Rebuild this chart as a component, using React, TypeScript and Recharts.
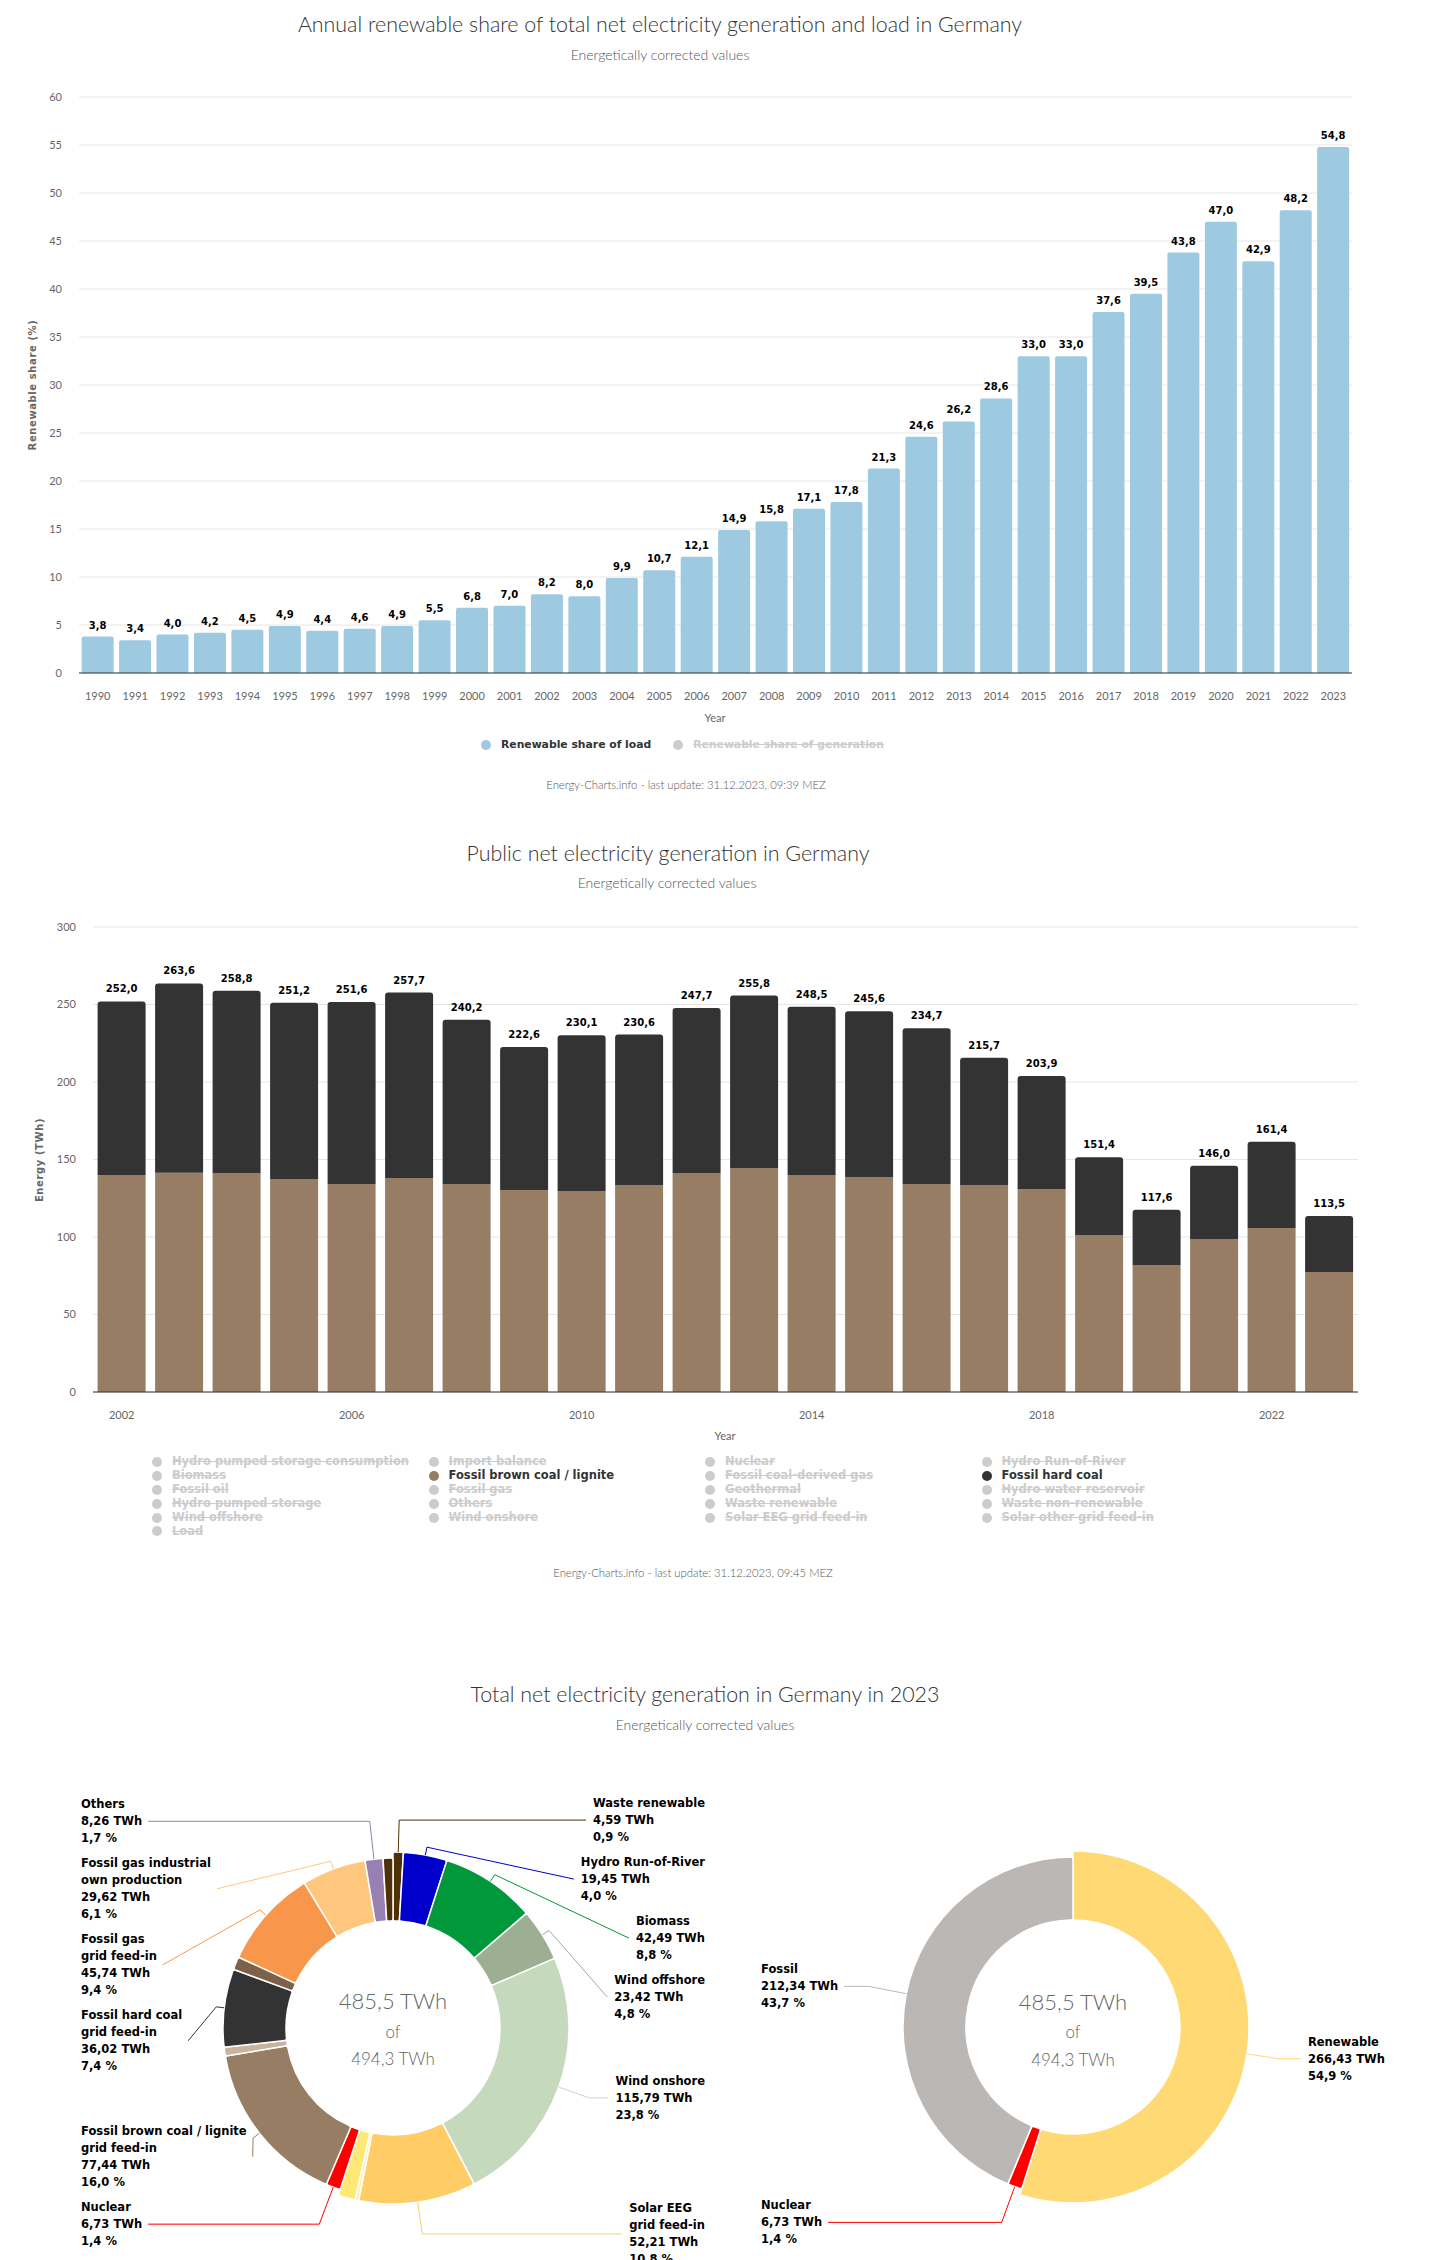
import React from 'react';
import { BarChart, Bar, XAxis, YAxis, CartesianGrid, LabelList, PieChart, Pie, Cell } from 'recharts';

// --- Annual renewable share of load (%)
const shareYears = [
  '1990', '1991', '1992', '1993', '1994', '1995', '1996', '1997', '1998', '1999',
  '2000', '2001', '2002', '2003', '2004', '2005', '2006', '2007', '2008', '2009',
  '2010', '2011', '2012', '2013', '2014', '2015', '2016', '2017', '2018', '2019',
  '2020', '2021', '2022', '2023',
];
const shareOfLoad = [
  3.8, 3.4, 4.0, 4.2, 4.5, 4.9, 4.4, 4.6, 4.9, 5.5,
  6.8, 7.0, 8.2, 8.0, 9.9, 10.7, 12.1, 14.9, 15.8, 17.1,
  17.8, 21.3, 24.6, 26.2, 28.6, 33.0, 33.0, 37.6, 39.5, 43.8,
  47.0, 42.9, 48.2, 54.8,
];
const shareTicks = [0, 5, 10, 15, 20, 25, 30, 35, 40, 45, 50, 55, 60];

// --- Public net generation, TWh (lignite + hard coal visible)
const genYears = [
  '2002', '2003', '2004', '2005', '2006', '2007', '2008', '2009', '2010', '2011', '2012',
  '2013', '2014', '2015', '2016', '2017', '2018', '2019', '2020', '2021', '2022', '2023',
];
const ligniteTWh = [
  140.0, 141.4, 141.3, 137.4, 134.2, 138.1, 134.2, 130.3, 129.7, 133.5, 141.3,
  144.5, 140.0, 138.7, 134.2, 133.5, 131.0, 101.3, 81.8, 98.7, 105.8, 77.4,
];
const genTotalTWh = [
  252.0, 263.6, 258.8, 251.2, 251.6, 257.7, 240.2, 222.6, 230.1, 230.6, 247.7,
  255.8, 248.5, 245.6, 234.7, 215.7, 203.9, 151.4, 117.6, 146.0, 161.4, 113.5,
];
const genTicks = [0, 50, 100, 150, 200, 250, 300];
const genLegendNames = [
  'Hydro pumped storage consumption', 'Import balance', 'Nuclear', 'Hydro Run-of-River',
  'Biomass', 'Fossil brown coal / lignite', 'Fossil coal-derived gas', 'Fossil hard coal',
  'Fossil oil', 'Fossil gas', 'Geothermal', 'Hydro water reservoir',
  'Hydro pumped storage', 'Others', 'Waste renewable', 'Waste non-renewable',
  'Wind offshore', 'Wind onshore', 'Solar EEG grid feed-in', 'Solar other grid feed-in',
  'Load',
];
const LIGNITE = '#977d63';
const HARDCOAL = '#333333';
const genLegendActive: Record<string, string> = {
  'Fossil brown coal / lignite': LIGNITE,
  'Fossil hard coal': HARDCOAL,
};

// --- 2023 total net generation mix (clockwise from top)
const mixNames = [
  'Waste renewable', 'Hydro Run-of-River', 'Biomass', 'Wind offshore', 'Wind onshore',
  'Solar EEG\ngrid feed-in', 'Solar other grid feed-in', 'Solar self-consumption', 'Nuclear',
  'Fossil brown coal / lignite\ngrid feed-in', 'Fossil coal-derived gas', 'Fossil hard coal\ngrid feed-in',
  'Fossil oil', 'Fossil gas\ngrid feed-in', 'Fossil gas industrial\nown production', 'Others',
  'Waste non-renewable',
];
const mixTWh = [
  4.59, 19.45, 42.49, 23.42, 115.79,
  52.21, 1.6, 7.6, 6.73,
  77.44, 4.0, 36.02,
  6.0, 45.74, 29.62, 8.26,
  4.54,
];
const mixColors = [
  '#4f3107', '#0000cc', '#00983a', '#9caf93', '#c5d9bc',
  '#ffcc66', '#fff1b0', '#ffe873', '#ff0000',
  '#967d63', '#c9b39c', '#333333',
  '#7d6148', '#f8974c', '#ffc77e', '#9880b2',
  '#4f3107',
];
const mixRenewable = [
  true, true, true, true, true,
  true, true, true, false,
  false, false, false,
  false, false, false, false,
  false,
];
const mixLabelled = [
  true, true, true, true, true,
  true, false, false, true,
  true, false, true,
  false, true, true, true,
  false,
];

const groupNames = ['Renewable', 'Nuclear', 'Fossil'];
const groupTWh = [266.43, 6.73, 212.34];
const groupColors = ['#ffd974', '#ff0000', '#bbb7b4'];
const groupRenewable = [true, false, false];
const groupLabelled = [true, true, true];

const grossTotalTWh = 494.3;

// ---------------------------------------------------------------
const THIN = "Lato, 'Open Sans', sans-serif";
const BOLD = "'DejaVu Sans', Verdana, sans-serif";
const RAD = Math.PI / 180;
const LINE = 17;
const EDGE = 312;
const PIE_FONT = 11.5;
const fmt = (v: number, d: number) => v.toFixed(d).replace('.', ',');

const shareData = shareYears.map((year, i) => ({ year, load: shareOfLoad[i] }));
const genData = genYears.map((year, i) => ({
  year,
  lignite: ligniteTWh[i],
  hardcoal: Math.round((genTotalTWh[i] - ligniteTWh[i]) * 10) / 10,
  total: genTotalTWh[i],
}));

let measureCtx: CanvasRenderingContext2D | null = null;
function textWidth(s: string) {
  if (!measureCtx) measureCtx = document.createElement('canvas').getContext('2d');
  if (!measureCtx) return s.length * 6.6;
  measureCtx.font = `bold ${PIE_FONT}px 'DejaVu Sans'`;
  return measureCtx.measureText(s).width;
}

type Spot = { theta: number; y: number; side: 'left' | 'right'; lines: string[]; r: number; color: string };

function layoutLabels(
  names: string[], values: number[], colors: string[], renewable: boolean[], labelled: boolean[], cy: number,
) {
  const total = values.reduce((a, b) => a + b, 0);
  let acc = 0;
  const spots: (Spot | null)[] = values.map((v, i) => {
    const theta = ((acc + v / 2) / total) * 360;
    acc += v;
    if (!labelled[i]) return null;
    return {
      theta,
      y: cy - 208 * Math.cos(theta * RAD),
      side: theta < 180 ? 'right' : 'left',
      lines: [...names[i].split('\n'), `${fmt(v, 2)} TWh`, `${fmt((v / total) * 100, 1)} %`],
      r: renewable[i] ? 176 : 170,
      color: colors[i],
    };
  });
  (['left', 'right'] as const).forEach((side) => {
    const items = spots.filter((s): s is Spot => !!s && s.side === side).sort((a, b) => a.y - b.y);
    let prevBottom = -Infinity;
    items.forEach((s) => {
      const h = s.lines.length * LINE;
      const top = Math.max(s.y - h / 2, prevBottom + 8);
      s.y = top + h / 2;
      prevBottom = top + h;
    });
  });
  return spots;
}

function makeLabel(spots: (Spot | null)[]) {
  return (p: any) => {
    const s = spots[p.index];
    if (!s) return null;
    const cx = p.cx as number;
    const cy = p.cy as number;
    const t = s.theta * RAD;
    const sn = Math.sin(t);
    const cs = Math.cos(t);
    const touch = [cx + s.r * sn, cy - s.r * cs];
    const brk = [cx + (s.r + 8) * sn, cy - (s.r + 8) * cs];
    const w = Math.max(...s.lines.map(textWidth));
    const left = s.side === 'right' ? cx + EDGE - w : cx - EDGE;
    const ax = s.side === 'right' ? left - 7 : left + w + 6;
    const crookX = cx - (s.y - cy) * Math.tan(t);
    let d = `M${ax},${s.y}`;
    const crook = s.side === 'right'
      ? crookX >= brk[0] && crookX <= ax
      : crookX <= brk[0] && crookX >= ax;
    if (crook) d += ` L${crookX},${s.y}`;
    d += ` L${brk[0]},${brk[1]} L${touch[0]},${touch[1]}`;
    const n = s.lines.length;
    return (
      <g key={`lbl-${p.index}`}>
        <path d={d} stroke={s.color} strokeWidth={1} fill="none" />
        <text fontFamily={BOLD} fontSize={PIE_FONT} fontWeight="bold" fill="#000">
          {s.lines.map((l, i) => (
            <tspan key={i} x={left} y={s.y + (i - (n - 1) / 2) * LINE + 4}>{l}</tspan>
          ))}
        </text>
      </g>
    );
  };
}

function At({ x, y, children, style, rotate }: { x: number; y: number; children: React.ReactNode; style?: React.CSSProperties; rotate?: boolean }) {
  return (
    <div
      style={{
        position: 'absolute', left: x, top: y, whiteSpace: 'nowrap',
        transform: `translate(-50%,-50%)${rotate ? ' rotate(-90deg)' : ''}`,
        ...style,
      }}
    >
      {children}
    </div>
  );
}

const titleStyle: React.CSSProperties = { fontFamily: THIN, fontWeight: 300, fontSize: 21.4, color: '#333' };
const subStyle: React.CSSProperties = { fontFamily: THIN, fontWeight: 300, fontSize: 14, color: '#555' };
const creditStyle: React.CSSProperties = { fontFamily: THIN, fontWeight: 300, fontSize: 11.3, color: '#555' };
const axisTitleStyle: React.CSSProperties = { fontFamily: THIN, fontSize: 11, color: '#666' };
const yTitleStyle: React.CSSProperties = { fontFamily: BOLD, fontWeight: 'bold', fontSize: 10, color: '#666', letterSpacing: 0.6 };
const tickStyle = { fill: '#666', fontSize: 11, fontFamily: THIN };

function Dot({ color }: { color: string }) {
  return <span style={{ display: 'inline-block', width: 10, height: 10, borderRadius: 5, background: color, flex: 'none' }} />;
}

function LegendItem({ name, color, active, size }: { name: string; color: string; active: boolean; size: number }) {
  return (
    <div style={{ display: 'flex', alignItems: 'center', gap: 10 }}>
      <Dot color={active ? color : '#cccccc'} />
      <span
        style={{
          fontFamily: BOLD, fontWeight: 'bold', fontSize: size, lineHeight: '13px',
          color: active ? '#333' : '#cccccc', textDecoration: active ? 'none' : 'line-through',
        }}
      >
        {name}
      </span>
    </div>
  );
}

const barLabelProps = { fill: '#000', fontSize: 10, fontWeight: 'bold', fontFamily: BOLD };

function ShareChart() {
  return (
    <div style={{ position: 'absolute', left: 0, top: 0, width: 1452, height: 800 }}>
      <At x={660} y={24} style={titleStyle}>Annual renewable share of total net electricity generation and load in Germany</At>
      <At x={660} y={54} style={subStyle}>Energetically corrected values</At>
      <BarChart width={1452} height={720} data={shareData} margin={{ top: 97, right: 100, bottom: 17, left: 0 }} barCategoryGap="7%">
        <CartesianGrid vertical={false} stroke="#e6e6e6" />
        <XAxis dataKey="year" interval={0} height={30} tickLine={false} axisLine={{ stroke: '#333' }} tickMargin={13} tick={tickStyle} />
        <YAxis width={79} domain={[0, 60]} ticks={shareTicks} axisLine={false} tickLine={false} tickMargin={11} tick={tickStyle} />
        <Bar dataKey="load" fill="#9ecae1" radius={[2, 2, 0, 0]} isAnimationActive={false}>
          <LabelList dataKey="load" position="top" offset={8} formatter={(v: any) => fmt(Number(v), 1)} {...barLabelProps} />
        </Bar>
      </BarChart>
      <At x={32} y={385} rotate style={yTitleStyle}>Renewable share (%)</At>
      <At x={715} y={717} style={axisTitleStyle}>Year</At>
      <div style={{ position: 'absolute', left: 481, top: 738, display: 'flex', gap: 22 }}>
        <LegendItem name="Renewable share of load" color="#9ecae1" active size={10.8} />
        <LegendItem name="Renewable share of generation" color="#ccc" active={false} size={10.8} />
      </div>
      <At x={686} y={784} style={creditStyle}>Energy-Charts.info - last update: 31.12.2023, 09:39 MEZ</At>
    </div>
  );
}

function GenerationChart() {
  return (
    <div style={{ position: 'absolute', left: 0, top: 800, width: 1452, height: 800 }}>
      <At x={668} y={53} style={titleStyle}>Public net electricity generation in Germany</At>
      <At x={667} y={82} style={subStyle}>Energetically corrected values</At>
      <BarChart width={1452} height={640} data={genData} margin={{ top: 127, right: 94, bottom: 18, left: 0 }} barCategoryGap="8%">
        <CartesianGrid vertical={false} stroke="#e6e6e6" />
        <XAxis dataKey="year" interval={3} height={30} tickLine={false} axisLine={{ stroke: '#333' }} tickMargin={13} tick={tickStyle} />
        <YAxis width={93} domain={[0, 300]} ticks={genTicks} axisLine={false} tickLine={false} tickMargin={11} tick={tickStyle} />
        <Bar dataKey="lignite" stackId="g" fill={LIGNITE} isAnimationActive={false} />
        <Bar dataKey="hardcoal" stackId="g" fill={HARDCOAL} radius={[3, 3, 0, 0]} isAnimationActive={false}>
          <LabelList dataKey="total" position="top" offset={9} formatter={(v: any) => fmt(Number(v), 1)} {...barLabelProps} />
        </Bar>
      </BarChart>
      <At x={39} y={360} rotate style={yTitleStyle}>Energy (TWh)</At>
      <At x={725} y={635} style={axisTitleStyle}>Year</At>
      <div
        style={{
          position: 'absolute', left: 152, top: 655, display: 'grid',
          gridTemplateColumns: 'repeat(4, 276.5px)', gridAutoRows: '13.9px', alignItems: 'center',
        }}
      >
        {genLegendNames.map((n) => (
          <LegendItem key={n} name={n} color={genLegendActive[n] || '#ccc'} active={!!genLegendActive[n]} size={11.5} />
        ))}
      </div>
      <At x={693} y={772} style={creditStyle}>Energy-Charts.info - last update: 31.12.2023, 09:45 MEZ</At>
    </div>
  );
}

const PIE_TOP = 1780;
const MIX_CX = 393;
const MIX_CY = 248;
const GRP_CX = 1073;
const GRP_CY = 247;

function MixCharts() {
  const mixData = mixNames.map((name, i) => ({ name, value: mixTWh[i] }));
  const grpData = groupNames.map((name, i) => ({ name, value: groupTWh[i] }));
  const mixSpots = layoutLabels(mixNames, mixTWh, mixColors, mixRenewable, mixLabelled, MIX_CY);
  const grpSpots = layoutLabels(groupNames, groupTWh, groupColors, groupRenewable, groupLabelled, GRP_CY);
  const mixTotal = mixTWh.reduce((a, b) => a + b, 0);
  const grpTotal = groupTWh.reduce((a, b) => a + b, 0);
  const centerBig: React.CSSProperties = { fontFamily: THIN, fontWeight: 300, fontSize: 22, color: '#666' };
  const centerSmall: React.CSSProperties = { fontFamily: THIN, fontWeight: 300, fontSize: 17, color: '#666' };
  const common = { dataKey: 'value', startAngle: 90, endAngle: -270, innerRadius: 107, cornerRadius: 2, isAnimationActive: false };
  return (
    <div style={{ position: 'absolute', left: 0, top: 1600, width: 1452, height: 660 }}>
      <At x={705} y={94} style={titleStyle}>Total net electricity generation in Germany in 2023</At>
      <At x={705} y={124} style={subStyle}>Energetically corrected values</At>
      <div style={{ position: 'absolute', left: 0, top: PIE_TOP - 1600 }}>
        <PieChart width={1452} height={480} margin={{ top: 0, right: 0, bottom: 0, left: 0 }}>
          <Pie {...common} data={mixData} cx={MIX_CX} cy={MIX_CY} outerRadius={176} labelLine={false} label={false}>
            {mixData.map((d, i) => (
              <Cell key={d.name} fill={mixRenewable[i] ? mixColors[i] : 'none'} stroke={mixRenewable[i] ? '#fff' : 'none'} strokeWidth={1.5} />
            ))}
          </Pie>
          <Pie {...common} data={mixData} cx={MIX_CX} cy={MIX_CY} outerRadius={170} labelLine={false} label={makeLabel(mixSpots)}>
            {mixData.map((d, i) => (
              <Cell key={d.name} fill={!mixRenewable[i] ? mixColors[i] : 'none'} stroke={!mixRenewable[i] ? '#fff' : 'none'} strokeWidth={1.5} />
            ))}
          </Pie>
          <Pie {...common} data={grpData} cx={GRP_CX} cy={GRP_CY} outerRadius={176} labelLine={false} label={false}>
            {grpData.map((d, i) => (
              <Cell key={d.name} fill={groupRenewable[i] ? groupColors[i] : 'none'} stroke={groupRenewable[i] ? '#fff' : 'none'} strokeWidth={1.5} />
            ))}
          </Pie>
          <Pie {...common} data={grpData} cx={GRP_CX} cy={GRP_CY} outerRadius={170} labelLine={false} label={makeLabel(grpSpots)}>
            {grpData.map((d, i) => (
              <Cell key={d.name} fill={!groupRenewable[i] ? groupColors[i] : 'none'} stroke={!groupRenewable[i] ? '#fff' : 'none'} strokeWidth={1.5} />
            ))}
          </Pie>
        </PieChart>
      </div>
      <At x={MIX_CX} y={PIE_TOP - 1600 + MIX_CY - 28} style={centerBig}>{fmt(mixTotal, 1)} TWh</At>
      <At x={MIX_CX} y={PIE_TOP - 1600 + MIX_CY + 3} style={centerSmall}>of</At>
      <At x={MIX_CX} y={PIE_TOP - 1600 + MIX_CY + 30} style={centerSmall}>{fmt(grossTotalTWh, 1)} TWh</At>
      <At x={GRP_CX} y={PIE_TOP - 1600 + GRP_CY - 26} style={centerBig}>{fmt(grpTotal, 1)} TWh</At>
      <At x={GRP_CX} y={PIE_TOP - 1600 + GRP_CY + 4} style={centerSmall}>of</At>
      <At x={GRP_CX} y={PIE_TOP - 1600 + GRP_CY + 32} style={centerSmall}>{fmt(grossTotalTWh, 1)} TWh</At>
    </div>
  );
}

export default function App() {
  return (
    <div style={{ position: 'relative', width: 1452, height: 2260, background: '#fff', overflow: 'hidden' }}>
      <style>{'body{margin:0}'}</style>
      <ShareChart />
      <GenerationChart />
      <MixCharts />
    </div>
  );
}
